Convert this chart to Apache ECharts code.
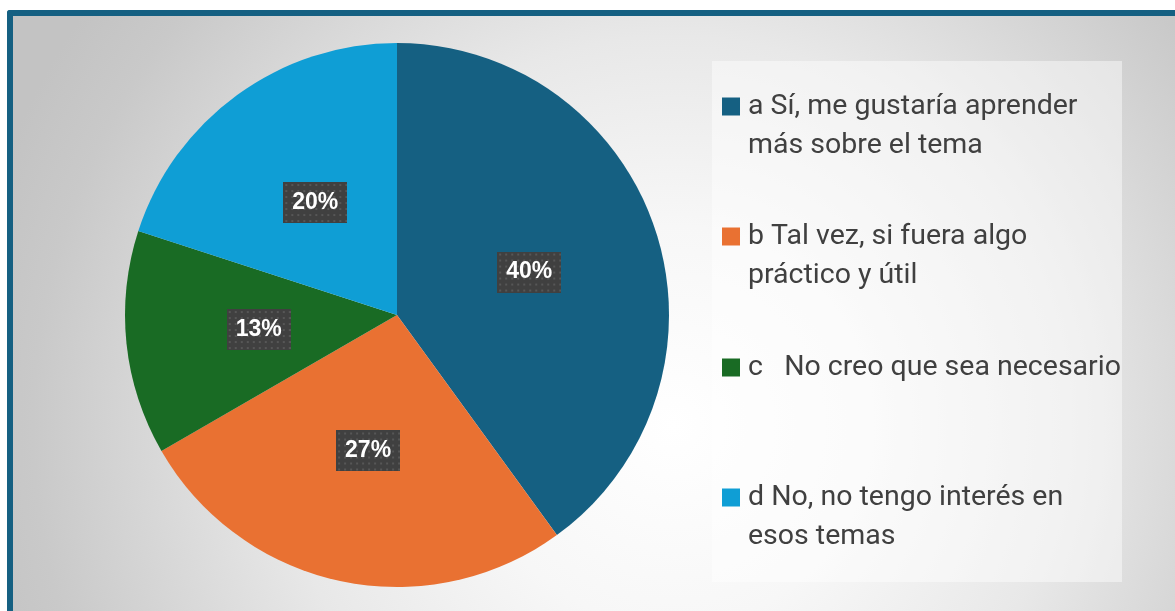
<!DOCTYPE html>
<html>
<head>
<meta charset="utf-8">
<title>Encuesta</title>
<script src="https://cdn.jsdelivr.net/npm/echarts@6/dist/echarts.min.js"></script>
<style>
	html, body { margin: 0; padding: 0; background: #ffffff; overflow: hidden; }
	#frame {
		position: absolute; left: 7px; top: 10px; width: 1200px; height: 640px;
		border-left: 6px solid #156082; border-top: 6px solid #156082;
		border-top-left-radius: 3px;
		background: radial-gradient(circle 720px at 660px 410px, #ffffff 0px, #f7f7f7 200px, #e8e8e8 390px, #c9c9c9 640px, #c3c3c3 720px);
	}
	#chart { position: absolute; left: 0; top: 0; width: 1175px; height: 611px; }
</style>
</head>
<body>
<div id="frame"></div>
<div id="chart"></div>
<script>
// respuestas de la encuesta
var categories = [
	'a Sí, me gustaría aprender\nmás sobre el tema',
	'b Tal vez, si fuera algo\npráctico y útil',
	'c   No creo que sea necesario',
	'd No, no tengo interés en\nesos temas'
];
var values = [6, 4, 2, 3];
var colors = ['#156082', '#E97132', '#196B24', '#0F9ED5'];
var legendTops = [48, 178, 348, 439];

// fondo punteado de las etiquetas
function dotPattern(w, h) {
	var c = document.createElement('canvas');
	c.width = w; c.height = h;
	var ctx = c.getContext('2d');
	ctx.fillStyle = '#404040';
	ctx.fillRect(0, 0, w, h);
	ctx.fillStyle = '#575757';
	for (var y = 2; y < h; y += 6) {
		for (var x = 2; x < w; x += 6) {
			ctx.fillRect(x, y, 2, 2);
		}
	}
	return c;
}

var myChart = echarts.init(document.getElementById('chart'), null, {renderer: 'canvas'});

var legends = categories.map(function (name, i) {
	var twoLines = name.indexOf('\n') >= 0;
	return {
		data: [name],
		left: 722,
		top: legendTops[i],
		padding: 0,
		itemWidth: 18,
		itemHeight: 18,
		icon: 'rect',
		selectedMode: false,
		itemStyle: { borderWidth: 0 },
		formatter: function (n) {
			// linea vacia arriba para que el cuadro quede junto a la primera linea
			return twoLines ? ' \n' + n : n;
		},
		textStyle: {
			fontFamily: 'Roboto',
			fontSize: 28.5,
			lineHeight: 39,
			color: '#404040',
			padding: [0, 0, 0, 3]
		}
	};
});

var option = {
	backgroundColor: 'transparent',
	color: colors,
	animation: false,
	legend: legends,
	graphic: [{
		type: 'rect',
		z: 0,
		shape: { x: 712, y: 61, width: 410, height: 521 },
		style: { fill: 'rgba(255,255,255,0.45)' }
	}],
	series: [{
		type: 'pie',
		center: [397, 315],
		radius: 272,
		startAngle: 90,
		clockwise: true,
		percentPrecision: 0,
		itemStyle: { borderWidth: 0 },
		emphasis: { disabled: true },
		label: {
			show: true,
			position: 'inside',
			formatter: '{d}%',
			fontFamily: 'Liberation Sans',
			fontWeight: 'bold',
			fontSize: 23,
			lineHeight: 23,
			color: '#ffffff',
			backgroundColor: { image: dotPattern(64, 41) },
			padding: [9, 9, 9, 9],
			shadowColor: 'rgba(0,0,0,0.45)',
			shadowBlur: 5,
			shadowOffsetX: 2,
			shadowOffsetY: 3
		},
		labelLine: { show: false },
		data: categories.map(function (n, i) {
			return { name: n, value: values[i] };
		})
	}]
};
myChart.setOption(option);
</script>
</body>
</html>
